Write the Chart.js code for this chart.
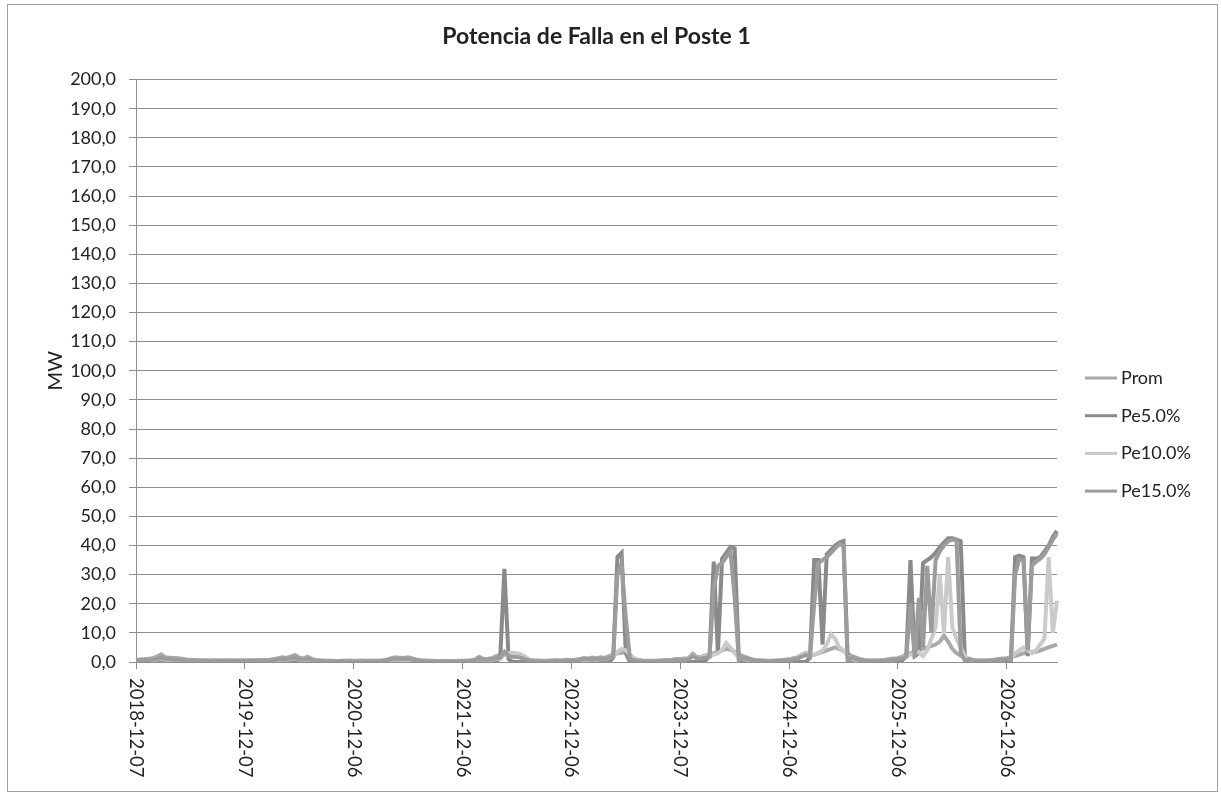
<!DOCTYPE html>
<html>
<head>
<meta charset="utf-8">
<script src="https://cdn.jsdelivr.net/npm/chart.js@4"></script>
<style>
html,body{margin:0;padding:0;background:#fff;}
#wrap{position:absolute;left:0;top:0;width:1221px;height:798px;}
</style>
</head>
<body>
<div id="wrap"><canvas id="c" width="1221" height="798"></canvas></div>
<script>
// ---- data ----
const tickLabels = ['2018-12-07','2019-12-07','2020-12-06','2021-12-06','2022-12-06','2023-12-07','2024-12-06','2025-12-06','2026-12-06'];
const labelStep = 26; // periods between dated tick labels

const prom = [
  0.8,0.9,1.0,1.1,1.3,1.8,2.6,1.6,1.5,1.4,1.3,1.1,0.9,0.8,0.7,0.6,0.6,0.5,0.5,0.6,0.5,0.5,0.6,0.5,0.5,0.6,
  0.5,0.6,0.6,0.7,0.6,0.7,0.8,1.0,1.3,1.6,1.4,1.9,2.4,1.5,1.2,1.8,1.0,0.7,0.5,0.5,0.4,0.4,0.3,0.4,0.4,0.5,
  0.4,0.4,0.5,0.4,0.5,0.4,0.5,0.6,0.9,1.3,1.6,1.5,1.4,1.6,1.2,0.8,0.6,0.5,0.4,0.4,0.3,0.3,0.4,0.3,0.3,0.4,
  0.4,0.5,0.6,0.9,1.8,1.0,1.1,1.3,2.0,2.4,2.6,2.7,2.5,2.3,1.5,0.8,0.6,0.5,0.5,0.4,0.4,0.5,0.6,0.5,0.6,0.8,
  0.6,0.8,1.0,1.4,1.2,1.5,1.3,1.6,1.4,2.0,2.5,3.0,3.2,3.5,2.2,1.2,0.7,0.5,0.4,0.4,0.4,0.5,0.6,0.7,0.8,1.0,
  1.0,1.2,1.3,2.8,1.6,1.8,2.2,2.5,3.0,3.5,4.0,4.5,4.2,3.5,2.5,2.0,1.5,1.0,0.7,0.5,0.5,0.4,0.4,0.5,0.6,0.8,
  1.0,1.3,1.6,2.5,3.2,2.4,2.5,3.0,3.5,4.0,4.5,5.0,4.5,3.8,2.8,2.0,1.5,1.0,0.7,0.5,0.5,0.5,0.6,0.8,1.0,1.2,
  1.3,1.8,2.5,3.0,3.5,4.0,4.5,5.0,5.5,6.0,7.0,9.0,7.0,4.5,3.0,2.2,1.6,1.0,0.7,0.5,0.5,0.5,0.6,0.8,1.0,1.2,
  1.3,1.6,2.0,2.5,3.0,3.2,3.5,3.5,4.0,4.5,5.0,5.5,6.0
];
const pe5 = [
  0,0,0,0,0,0,0,0,0,0,0,0,0,0,0,0,0,0,0,0,0,0,0,0,0,0,
  0,0,0,0,0,0,0,0,0,0,0,0,0,0,0,0,0,0,0,0,0,0,0,0,0,0,
  0,0,0,0,0,0,0,0,0,0,0,0,0,0,0,0,0,0,0,0,0,0,0,0,0,0,
  0,0,0,0,0,0,0,0,0,1.5,32,1,0,0,0,0,0,0,0,0,0,0,0,0,0,0,
  0,0,0,0,0,0,0,0,0,0,1.5,36,37.5,3,0,0,0,0,0,0,0,0,0,0,0,0,
  0,0,0,0,0,0,0.5,2,34.5,3,35.5,37.5,39.5,39,1,0,0,0,0,0,0,0,0,0,0,0,
  0,0,0,0,0,1.5,35,35,6,37,38.5,40,41,41.5,1,0,0,0,0,0,0,0,0,0,0,0,
  0,0.5,2,35,2,3,34,35,36,37.5,39.5,41,42.5,42.5,42,41.5,1,0,0,0,0,0,0,0,0,0,
  0,0.5,36,36.5,36,2,35.5,35.5,36,38,40,43,45
];
const pe10 = [
  0.3,0.3,0.4,0.4,0.5,0.8,1.2,0.8,0.7,0.6,0.6,0.5,0.4,0.4,0.3,0.3,0.3,0.3,0.3,0.3,0.3,0.3,0.3,0.3,0.3,0.3,
  0.3,0.3,0.3,0.3,0.3,0.4,0.4,0.5,0.7,0.9,0.8,1.0,1.3,0.8,0.6,0.9,0.5,0.4,0.3,0.2,0.2,0.2,0.2,0.2,0.2,0.2,
  0.2,0.2,0.2,0.2,0.2,0.2,0.3,0.3,0.5,0.7,0.8,0.8,0.7,0.8,0.6,0.4,0.3,0.2,0.2,0.2,0.2,0.2,0.2,0.2,0.2,0.2,
  0.2,0.2,0.3,0.5,1.0,0.6,0.7,0.8,1.0,1.2,2.5,3.0,3.2,3.0,2.6,1.8,0.8,0.4,0.3,0.2,0.2,0.2,0.3,0.3,0.3,0.4,
  0.4,0.5,0.6,0.8,0.7,0.9,0.8,1.0,0.9,1.3,2.0,3.5,4.5,4.0,2.5,1.2,0.6,0.4,0.3,0.3,0.3,0.3,0.4,0.5,0.6,0.7,
  0.8,0.9,1.1,2.2,1.4,1.6,1.8,2.0,2.5,3.0,4.0,6.5,5.0,3.0,1.5,1.2,0.8,0.6,0.4,0.4,0.3,0.3,0.3,0.4,0.5,0.6,
  0.8,1.0,1.3,2.2,3.0,2.0,2.5,3.0,4.0,6.0,9.5,8.0,5.0,4.0,2.0,1.0,0.7,0.5,0.4,0.4,0.4,0.4,0.5,0.6,0.7,0.9,
  1.0,1.4,2.0,2.5,3.0,3.5,2.0,4.0,8.0,12,30,10,36,12,8,5,2,1.0,0.6,0.4,0.4,0.4,0.5,0.6,0.7,0.9,
  1.0,1.2,3,4,5,4,3,4,6,8,36,10,21
];
const pe15 = [
  0.5,0.6,0.6,0.7,0.8,1.0,1.6,1.0,0.9,0.8,0.8,0.7,0.6,0.5,0.5,0.4,0.4,0.4,0.4,0.4,0.4,0.4,0.4,0.4,0.4,0.4,
  0.4,0.4,0.4,0.5,0.5,0.5,0.6,0.7,0.9,1.1,1.0,1.3,1.6,1.0,0.8,1.2,0.7,0.5,0.4,0.3,0.3,0.3,0.3,0.3,0.3,0.3,
  0.3,0.3,0.3,0.3,0.3,0.3,0.3,0.4,0.6,0.9,1.1,1.0,1.0,1.1,0.8,0.6,0.4,0.3,0.3,0.3,0.3,0.3,0.3,0.3,0.3,0.3,
  0.3,0.3,0.4,0.6,1.2,0.7,0.8,0.9,1.3,1.5,3.5,2.0,1.8,1.7,1.5,1.0,0.6,0.4,0.3,0.3,0.3,0.3,0.4,0.4,0.4,0.5,
  0.5,0.6,0.7,1.0,0.9,1.1,1.0,1.2,1.0,1.4,1.8,30,34,15,1,0.6,0.4,0.3,0.3,0.3,0.3,0.4,0.4,0.5,0.6,0.7,
  0.7,0.8,1.0,2.0,1.2,1.3,1.5,1.8,25,33,34,36,38,22,0.5,1.5,1.0,0.7,0.5,0.4,0.4,0.3,0.3,0.4,0.5,0.6,
  0.7,0.9,1.2,1.8,2.4,1.8,20,34,35,36,37.5,39,40.5,40,0.5,1.5,1.0,0.7,0.5,0.4,0.4,0.4,0.5,0.6,0.7,0.9,
  1.0,1.3,1.8,20,1.5,22,5,33,10,35,38,40,41.5,42,42,3,0.5,1.0,0.6,0.4,0.4,0.4,0.5,0.6,0.7,0.9,
  1.0,1.2,30,35.5,35,4,33,34.5,35.5,37,39.5,42,44
];
const seriesNames = ['Prom','Pe5.0%','Pe10.0%','Pe15.0%'];
const categories = prom.map((_, i) => i);

// ---- styling ----
const FONT = 'Lato, "Open Sans", sans-serif';
const TXT = '#222';
const GRID = '#8e8e8e';
const colors = ['#a9a9a9', '#8a8a8a', '#cacaca', '#9c9c9c'];

const framePlugin = {
  id: 'framePlugin',
  beforeDraw(chart) {
    const ctx = chart.ctx;
    ctx.save();
    ctx.fillStyle = '#fff';
    ctx.fillRect(0, 0, chart.width, chart.height);
    ctx.strokeStyle = '#a0a0a0';
    ctx.lineWidth = 1;
    ctx.strokeRect(7.5, 4.5, 1210, 787);
    ctx.restore();
  }
};

const xLabelPlugin = {
  id: 'xLabelPlugin',
  afterDraw(chart) {
    const xs = chart.scales.x, ctx = chart.ctx;
    ctx.save();
    ctx.font = '18.5px ' + FONT;
    ctx.fillStyle = TXT;
    ctx.textAlign = 'left';
    ctx.textBaseline = 'middle';
    tickLabels.forEach((t, k) => {
      const x = xs.getPixelForValue(k * labelStep);
      ctx.save();
      ctx.translate(x, xs.top + 16);
      ctx.rotate(Math.PI / 2);
      ctx.fillText(t, 0, 0);
      ctx.restore();
    });
    ctx.restore();
  }
};

const legendPlugin = {
  id: 'legendPlugin',
  afterDraw(chart) {
    const ctx = chart.ctx;
    ctx.save();
    ctx.font = '18px ' + FONT;
    ctx.fillStyle = TXT;
    ctx.textAlign = 'left';
    ctx.textBaseline = 'middle';
    chart.data.datasets.forEach((ds, i) => {
      const y = 378 + i * 37.7;
      ctx.strokeStyle = ds.borderColor;
      ctx.lineWidth = 3;
      ctx.beginPath();
      ctx.moveTo(1085, y);
      ctx.lineTo(1117, y);
      ctx.stroke();
      ctx.fillText(ds.label, 1121, y);
    });
    ctx.restore();
  }
};

const seriesData = [prom, pe5, pe10, pe15];

new Chart(document.getElementById('c'), {
  type: 'line',
  data: {
    labels: categories,
    datasets: seriesData.map((d, i) => ({
      label: seriesNames[i],
      data: d,
      borderColor: colors[i],
      backgroundColor: colors[i],
      borderWidth: 4,
      pointRadius: 0,
      tension: 0,
      fill: false,
      order: 4 - i
    }))
  },
  options: {
    responsive: false,
    animation: false,
    events: [],
    layout: { padding: { left: 18, right: 164, top: 10, bottom: 129 } },
    plugins: {
      legend: { display: false },
      tooltip: { enabled: false },
      title: {
        display: true,
        text: 'Potencia de Falla en el Poste 1',
        fullSize: false,
        color: TXT,
        font: { family: FONT, size: 23, weight: 'bold' },
        padding: { top: 13, bottom: 29 }
      }
    },
    scales: {
      x: {
        type: 'category',
        offset: false,
        ticks: { display: false, autoSkip: false },
        grid: {
          drawOnChartArea: false,
          drawTicks: true,
          tickLength: 7,
          color: (c) => (c.index % labelStep === 0 ? GRID : 'rgba(0,0,0,0)')
        },
        border: { display: true, color: GRID },
        afterFit: (s) => { s.height = 7; }
      },
      y: {
        min: 0,
        max: 200,
        ticks: {
          stepSize: 10,
          color: TXT,
          padding: 13,
          font: { family: FONT, size: 18 },
          callback: (v) => Number(v).toFixed(1).replace('.', ',')
        },
        grid: { color: GRID, tickLength: 7, drawTicks: true },
        border: { display: true, color: GRID },
        title: {
          display: true,
          text: 'MW',
          color: TXT,
          font: { family: FONT, size: 20 },
          padding: { top: 26, bottom: 0 }
        },
        afterFit: (s) => { s.width = 118; }
      }
    }
  },
  plugins: [framePlugin, xLabelPlugin, legendPlugin]
});
</script>
</body>
</html>
